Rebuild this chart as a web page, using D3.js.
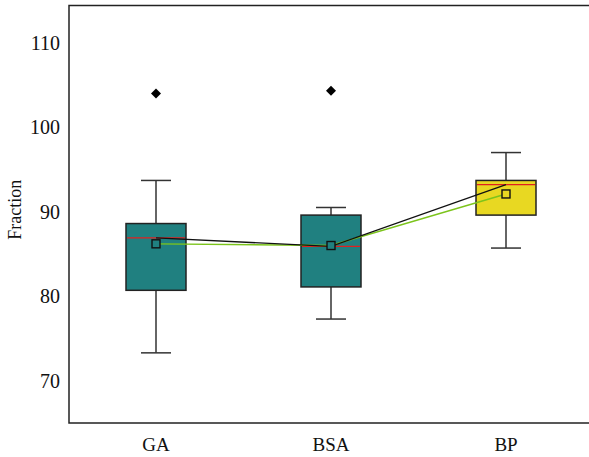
<!DOCTYPE html>
<html>
<head>
<meta charset="utf-8">
<script src="https://cdn.jsdelivr.net/npm/d3@7"></script>
<style>
  html, body { margin: 0; padding: 0; background: #fff; }
  svg { display: block; }
</style>
</head>
<body>
<svg id="chart" width="589" height="457"></svg>
<script>
// Box plot summaries per method
const categories = ["GA", "BSA", "BP"];
const whiskerLow  = [73.3, 77.3, 85.7];
const q1          = [80.7, 81.1, 89.6];
const median      = [86.9, 85.9, 93.2];
const q3          = [88.6, 89.6, 93.7];
const whiskerHigh = [93.7, 90.5, 97.0];
const mean        = [86.2, 86.0, 92.1];
const outliers    = [[104.0], [104.3], []];
const boxColors   = ["#208080", "#208080", "#e8d822"];
const yTicks      = [70, 80, 90, 100, 110];

const FONT = "'Liberation Serif', 'Times New Roman', serif";
const svg = d3.select("#chart");
const plot = { left: 69, top: 5.5, right: 600, bottom: 423 };

const x = d3.scaleBand().domain(categories).range([68.5, 593.5]).padding(0);
const cx = c => x(c) + x.bandwidth() / 2;
const y = d3.scaleLinear().domain([65, 114.4]).range([plot.bottom, plot.top]);

const boxW = 60, capW = 30;

const data = categories.map((c, i) => ({
  c, lo: whiskerLow[i], q1: q1[i], med: median[i], q3: q3[i], hi: whiskerHigh[i],
  mean: mean[i], out: outliers[i], color: boxColors[i]
}));

// Frame (left, top and bottom edges)
svg.append("path")
  .attr("d", `M${plot.right},${plot.top}H${plot.left}V${plot.bottom}H${plot.right}`)
  .attr("fill", "none").attr("stroke", "#222").attr("stroke-width", 1.5);

// Y axis labels
const yAxis = svg.append("g").attr("transform", `translate(${plot.left},0)`)
  .call(d3.axisLeft(y).tickValues(yTicks).tickSize(0).tickPadding(9))
  .attr("font-family", FONT).attr("font-size", 20);
yAxis.select(".domain").remove();
yAxis.selectAll("text").attr("fill", "#111");

// X axis labels
const xAxis = svg.append("g").attr("transform", `translate(0,${plot.bottom})`)
  .call(d3.axisBottom(x).tickSize(0).tickPadding(15))
  .attr("font-family", FONT).attr("font-size", 19);
xAxis.select(".domain").remove();
xAxis.selectAll("text").attr("fill", "#111");

svg.append("text")
  .attr("transform", `translate(21,${y(90) - 2}) rotate(-90)`)
  .attr("text-anchor", "middle")
  .attr("font-family", FONT).attr("font-size", 18).attr("fill", "#111")
  .text("Fraction");

const g = svg.append("g");

// Whiskers and caps
data.forEach(d => {
  const xc = cx(d.c);
  g.append("line").attr("x1", xc).attr("x2", xc).attr("y1", y(d.hi)).attr("y2", y(d.q3))
    .attr("stroke", "#333").attr("stroke-width", 1.5);
  g.append("line").attr("x1", xc).attr("x2", xc).attr("y1", y(d.q1)).attr("y2", y(d.lo))
    .attr("stroke", "#333").attr("stroke-width", 1.5);
  [d.hi, d.lo].forEach(v => g.append("line")
    .attr("x1", xc - capW / 2).attr("x2", xc + capW / 2).attr("y1", y(v)).attr("y2", y(v))
    .attr("stroke", "#333").attr("stroke-width", 1.5));
});

// Boxes
g.selectAll("rect.box").data(data).join("rect")
  .attr("class", "box")
  .attr("x", d => cx(d.c) - boxW / 2)
  .attr("width", boxW)
  .attr("y", d => y(d.q3))
  .attr("height", d => y(d.q1) - y(d.q3))
  .attr("fill", d => d.color)
  .attr("stroke", "#222").attr("stroke-width", 1.5);

// Median lines
g.selectAll("line.median").data(data).join("line")
  .attr("class", "median")
  .attr("x1", d => cx(d.c) - boxW / 2 + 1).attr("x2", d => cx(d.c) + boxW / 2 - 1)
  .attr("y1", d => y(d.med)).attr("y2", d => y(d.med))
  .attr("stroke", "#e02020").attr("stroke-width", 1.3);

// Connecting lines: medians (black) and means (green)
const medLine = d3.line().x(d => cx(d.c)).y(d => y(d.med));
const meanLine = d3.line().x(d => cx(d.c)).y(d => y(d.mean));
g.append("path").attr("d", meanLine(data)).attr("fill", "none")
  .attr("stroke", "#7cc41c").attr("stroke-width", 1.4);
g.append("path").attr("d", medLine(data)).attr("fill", "none")
  .attr("stroke", "#111").attr("stroke-width", 1.3);

// Mean markers
const ms = 8;
g.selectAll("rect.mean").data(data).join("rect")
  .attr("class", "mean")
  .attr("x", d => cx(d.c) - ms / 2).attr("y", d => y(d.mean) - ms / 2)
  .attr("width", ms).attr("height", ms)
  .attr("fill", d => d.color)
  .attr("stroke", "#111").attr("stroke-width", 1.4);

// Outliers
const diamond = d3.symbol().type(d3.symbolSquare).size(50);
data.forEach(d => {
  d.out.forEach(v => {
    g.append("path").attr("d", diamond())
      .attr("transform", `translate(${cx(d.c)},${y(v)}) rotate(45)`)
      .attr("fill", "#000");
  });
});
</script>
</body>
</html>
